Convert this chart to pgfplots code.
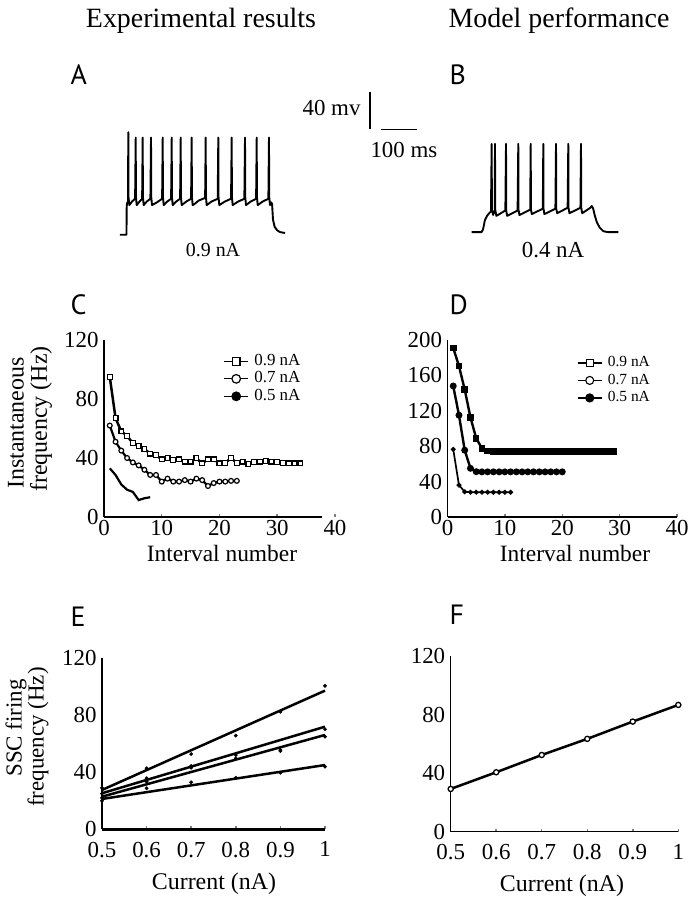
\documentclass[border=0pt]{standalone}
\usepackage{fontspec}
\setmainfont{Liberation Serif}
\newfontfamily\panelfont{PT Sans}
\usepackage{pgfplots}
\pgfplotsset{compat=1.18}

\newcommand{\fs}[1]{\fontsize{#1}{#1}\selectfont}

\pgfplotsset{
  panel/.style={
    scale only axis, anchor=south west, clip=false,
    axis lines=left, axis line style={-},
    tick align=inside, major tick length=3bp,
    ytick style={draw=none},
    xtick style={line width=1.5bp},
    tick label style={font=\fs{23}},
    yticklabel style={xshift=-2bp},
    /pgf/number format/assume math mode=true,
  },
  lgd/.style={
    legend image code/.code={\draw[mark repeat=2,mark phase=2] plot coordinates {(0bp,0bp)(12bp,0bp)(24bp,0bp)};},
    legend cell align=left,
    legend style={anchor=north west, draw=none, fill=none, inner sep=0pt, row sep=0pt,
      /tikz/every odd column/.append style={column sep=4bp},
      nodes={inner sep=1.5bp, text height=11bp, text depth=3.5bp}},
  },
}

\begin{document}
\begin{tikzpicture}
\path[use as bounding box] (0bp,0bp) rectangle (688bp,900bp);

% titles and panel letters
\node[anchor=base, font=\fs{28}] at (201bp,872bp) {Experimental results};
\node[anchor=base, font=\fs{28}] at (559bp,872bp) {Model performance};
\node[anchor=base west, font=\panelfont\fs{28}] at (67bp,815bp) {A};
\node[anchor=base west, font=\panelfont\fs{28}] at (446bp,815bp) {B};
\node[anchor=base west, font=\panelfont\fs{28}] at (67bp,585bp) {C};
\node[anchor=base west, font=\panelfont\fs{28}] at (446bp,585bp) {D};
\node[anchor=base west, font=\panelfont\fs{28}] at (67bp,273bp) {E};
\node[anchor=base west, font=\panelfont\fs{28}] at (446bp,275bp) {F};

% voltage traces, t in ms, V in mV
\begin{axis}[scale only axis, anchor=south west, at={(100bp,640bp)}, width=540bp, height=180bp,
  axis lines=none, clip=false, xmin=0, xmax=1500, ymin=-100, ymax=100]
\addplot[line width=1.9bp, line join=round] coordinates {
 (55,-72) (73.5,-72) (74.2,-40) (76,-36) (77.8,-35)
 (78.6,42) (79.2,-30) (81.5,-39) (89,-35) (97.5,-32)
 (99.2,36) (99.8,-30) (102,-39) (110,-35) (117,-32)
 (118.6,36) (119.2,-30) (121.4,-39) (130,-35) (140,-32)
 (141.7,36) (142.3,-30) (144.5,-39) (158,-36) (172.5,-32)
 (174.2,36) (174.8,-30) (177,-39) (187,-35) (197.5,-32)
 (199.2,36) (199.8,-30) (202,-39) (212,-35) (222.5,-32)
 (224.2,36) (224.8,-30) (227,-39) (240,-35) (253,-32)
 (254.7,36) (255.3,-30) (257.5,-39) (262,-38) (274,-34) (292,-31)
 (293.6,36) (294.2,-30) (296.4,-39) (310,-35) (327,-32)
 (328.6,36) (329.2,-30) (331.4,-39) (347,-35) (364,-32)
 (365.8,36) (366.4,-30) (368.6,-39) (384,-35) (401,-32)
 (402.8,36) (403.4,-30) (405.6,-39) (419,-35) (433.6,-32)
 (435.3,36) (435.9,-30) (438.1,-39) (452,-35) (467.7,-32)
 (469.4,36) (470,-30) (472.3,-39) (476,-36) (478,-38) (480.5,-55) (485,-63) (492,-67) (500,-69) (514,-70)
};
\addplot[line width=1.9bp, line join=round] coordinates {
 (1032,-69) (1060,-69) (1064,-66) (1069,-56) (1075,-51) (1081,-48) (1086,-46)
 (1088,29) (1088.6,-44) (1092,-50) (1096.5,-45)
 (1097.2,29) (1097.8,-44) (1101,-51) (1126,-45)
 (1127.8,29) (1128.4,-45) (1131,-51) (1160,-45)
 (1161.9,29) (1162.5,-44) (1165,-50) (1195,-44)
 (1196.4,29) (1197,-44) (1199.5,-49) (1230,-43)
 (1231.4,29) (1232,-43) (1234.5,-49) (1265,-43)
 (1266.7,29) (1267.3,-43) (1270,-48) (1299,-42)
 (1300.8,29) (1301.4,-42) (1304,-48) (1334.5,-42)
 (1336.1,29) (1336.7,-42) (1339.5,-48) (1362,-42) (1366,-40) (1370,-43)
 (1374,-50) (1380,-58) (1388,-64) (1398,-68) (1410,-69) (1440,-69)
};
% scale bars: 40 mV, 100 ms
\addplot[line width=1.8bp] coordinates {(751,46) (751,87)};
\addplot[line width=1.8bp] coordinates {(780,45) (880,45)};
\end{axis}
\node[anchor=east, font=\fs{23}] at (364bp,792bp) {40 mv};
\node[anchor=west, font=\fs{23}] at (367bp,750bp) {100 ms};
\node[font=\fs{20}] at (213bp,650bp) {0.9 nA};
\node[font=\fs{23}] at (553bp,650bp) {0.4 nA};

% C
\begin{axis}[panel, lgd, at={(104bp,383bp)}, width=231bp, height=177bp,
  xmin=0, xmax=40, ymin=0, ymax=120,
  xtick={0,10,20,30,40}, ytick={0,40,80,120},
  axis line style={line width=2.5bp},
  x axis line style={shorten >=13bp},
  legend style={at={(0.517,0.93)}, font=\fs{17}}]
\addlegendimage{line width=1.2bp, mark=square*, mark size=3.8bp, mark options={fill=white, line width=1.2bp}}
\addlegendentry{0.9 nA}
\addlegendimage{line width=1.2bp, mark=*, mark size=4.3bp, mark options={fill=white, line width=1.2bp}}
\addlegendentry{0.7 nA}
\addlegendimage{line width=1.2bp, mark=*, mark size=4.3bp, mark options={fill=black}}
\addlegendentry{0.5 nA}
\addplot[forget plot, line width=2.5bp, mark=square*, mark size=2.4bp, mark options={fill=white, line width=1.2bp}] coordinates {
 (1,95)(2,67)(3,58)(4,55)(5,50)(6,48)(7,46)(8,43)(9,42)(10,39)(11,40)(12,38.6)
 (13,39)(14,37.5)(15,37.5)(16,39.8)(17,36.4)(18,39)(19,39)(20,36.4)(21,36.8)(22,39.8)
 (23,36.8)(24,37.5)(25,36)(26,37.2)(27,37.5)(28,38)(29,37.5)(30,37.2)(31,36.8)(32,36.4)(33,36.4)(34,36.4)
};
\addplot[forget plot, line width=2.2bp, mark=*, mark size=2.4bp, mark options={fill=white, line width=1.2bp}] coordinates {
 (1,62)(2,51)(3,45)(4,40)(5,37)(6,35)(7,32)(8,28.5)(9,28.5)(10,24)(11,26)(12,24)
 (13,24)(14,25)(15,24)(16,26)(17,25)(18,21)(19,23)(20,24)(21,24)(22,24.5)(23,24.5)
};
\addplot[forget plot, line width=2.2bp] coordinates {
 (1,33)(2,28.5)(3,22)(4,18.5)(5,17)(6,11.5)(7,12.7)(8,13.4)
};
\end{axis}
\node[rotate=90, font=\fs{24}] at (16bp,477bp) {Instantaneous};
\node[rotate=90, font=\fs{24}] at (41bp,481bp) {frequency (Hz)};
\node[font=\fs{23.5}] at (222bp,347bp) {Interval number};

% D
\begin{axis}[panel, lgd, at={(447.5bp,383bp)}, width=229.5bp, height=177bp,
  xmin=0, xmax=40, ymin=0, ymax=200,
  xtick={0,10,20,30,40}, ytick={0,40,80,120,160,200},
  axis line style={line width=1.3bp},
  legend style={at={(0.564,0.921)}, font=\fs{15.5}}]
\addlegendimage{line width=1.2bp, mark=square*, mark size=3.6bp, mark options={fill=white, line width=1.1bp}}
\addlegendentry{0.9 nA}
\addlegendimage{line width=1.2bp, mark=*, mark size=4bp, mark options={fill=white, line width=1.1bp}}
\addlegendentry{0.7 nA}
\addlegendimage{line width=1.2bp, mark=*, mark size=4bp, mark options={fill=black}}
\addlegendentry{0.5 nA}
\addplot[forget plot, line width=2.4bp, mark=square*, mark size=2.1bp] coordinates {
 (1,191)(2,170.5)(3,144)(4,112.5)(5,89)(6,77.5)(7,74.5)(8,74)(9,74)(10,74)(11,74)(12,74)
 (13,74)(14,74)(15,74)(16,74)(17,74)(18,74)(19,74)(20,74)(21,74)(22,74)(23,74)(24,74)
 (25,74)(26,74)(27,74)(28,74)(29,74)
};
\addplot[forget plot, line width=2.4bp, mark=*, mark size=2.2bp] coordinates {
 (1,148)(2,115)(3,75.5)(4,55)(5,51.2)(6,51)(7,51)(8,51)(9,51)(10,51)(11,51)(12,51)
 (13,51)(14,51)(15,51)(16,51)(17,51)(18,51)(19,51)(20,51)
};
\addplot[forget plot, line width=1.7bp, mark=*, mark size=1.5bp] coordinates {
 (1,76.5)(2,36)(3,28.5)(4,28)(5,28)(6,28)(7,28)(8,28)(9,28)(10,28)(11,28)
};
\end{axis}
\node[font=\fs{23.5}] at (575bp,347bp) {Interval number};

% E
\begin{axis}[panel, at={(102bp,70.7bp)}, width=223bp, height=171bp,
  xmin=0.5, xmax=1, ymin=0, ymax=120,
  xtick={0.5,0.6,0.7,0.8,0.9,1}, ytick={0,40,80,120},
  xticklabel style={yshift=-9bp},
  axis line style={line width=2.7bp}]
\addplot[line width=2.5bp] coordinates {(0.5,27.6) (1,97.3)};
\addplot[line width=2.5bp] coordinates {(0.5,25.3) (1,72)};
\addplot[line width=2.5bp] coordinates {(0.5,22.9) (1,66.2)};
\addplot[line width=2.5bp] coordinates {(0.5,21.3) (1,45.1)};
\addplot[only marks, mark=*, mark size=1.7bp] coordinates {
 (0.5,29)(0.6,42.8)(0.7,52.8)(0.8,65.7)(0.9,82.5)(1,100.6)};
\addplot[only marks, mark=*, mark size=1.7bp] coordinates {
 (0.5,25)(0.6,35.8)(0.7,44.4)(0.8,52.1)(0.9,55.6)(1,70.2)};
\addplot[only marks, mark=*, mark size=1.7bp] coordinates {
 (0.5,22)(0.6,33.4)(0.7,43.2)(0.8,49.8)(0.9,55)(1,65)};
\addplot[only marks, mark=*, mark size=1.7bp] coordinates {
 (0.5,20)(0.6,28.8)(0.7,33)(0.8,36.2)(0.9,39.7)(1,44)};
\end{axis}
\node[rotate=90, font=\fs{23}] at (16bp,172bp) {SSC firing};
\node[rotate=90, font=\fs{23}] at (38bp,163bp) {frequency (Hz)};
\node[font=\fs{24}] at (214bp,16bp) {Current (nA)};

% F
\begin{axis}[panel, at={(450.7bp,68.3bp)}, width=227.6bp, height=175.7bp,
  xmin=0.5, xmax=1, ymin=0, ymax=120,
  xtick={0.5,0.6,0.7,0.8,0.9,1}, ytick={0,40,80,120},
  xticklabel style={yshift=-9bp},
  axis line style={line width=1.2bp}]
\addplot[line width=2.5bp, mark=*, mark size=2.6bp, mark options={fill=white, line width=1.3bp}] coordinates {
 (0.5,29.2)(0.6,40.6)(0.7,52.4)(0.8,63.4)(0.9,75.2)(1,86.6)
};
\end{axis}
\node[font=\fs{24}] at (562bp,14bp) {Current (nA)};
\end{tikzpicture}
\end{document}
